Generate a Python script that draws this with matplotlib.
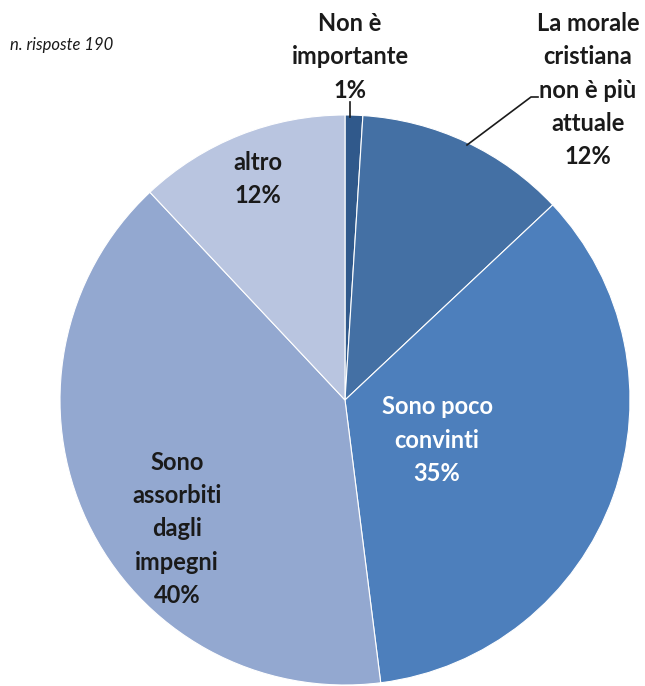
import matplotlib
matplotlib.use("Agg")
import matplotlib.pyplot as plt

categories = ["Non è\nimportante", "La morale\ncristiana\nnon è più\nattuale",
              "Sono poco\nconvinti", "Sono\nassorbiti\ndagli\nimpegni", "altro"]
values = [1, 12, 35, 40, 12]
colors = ["#30598b", "#4470a4", "#4d7fbc", "#93a8d0", "#b9c5e0"]
note = "n. risposte 190"

W, H = 645, 686
fig = plt.figure(figsize=(W / 100, H / 100), dpi=100)
ax = fig.add_axes([0, 0, 1, 1])

cx, cy, r = 345, H - 400, 285
ax.pie(values, colors=colors, startangle=90, counterclock=False,
       center=(cx, cy), radius=r, frame=True,
       wedgeprops=dict(edgecolor="white", linewidth=0.8))
ax.set_xlim(0, W)
ax.set_ylim(0, H)
ax.set_aspect("equal")
ax.axis("off")

# label positions (pixels from top) and text colours
label_pos = [(350, 57), (588, 90), (437, 440), (177, 529), (258, 179)]
label_col = ["#1a1a1a", "#1a1a1a", "white", "#1a1a1a", "#1a1a1a"]
fp = dict(family=["Lato", "DejaVu Sans"], fontweight="bold", fontsize=17)
for cat, v, (x, y), c in zip(categories, values, label_pos, label_col):
    ax.text(x, H - y, f"{cat}\n{v}%", ha="center", va="center",
            color=c, linespacing=1.55, **fp)

# leader lines
ax.plot([350, 350], [H - 102, H - 117], color="#1a1a1a", lw=1.2)
ax.plot([538, 531, 467], [H - 97, H - 97, H - 145], color="#1a1a1a", lw=1.2)

ax.text(10, H - 45, note, ha="left", va="center", fontsize=12, style="italic",
        family=["Lato", "DejaVu Sans"], color="#1a1a1a")

fig.savefig("out.png", dpi=100)
